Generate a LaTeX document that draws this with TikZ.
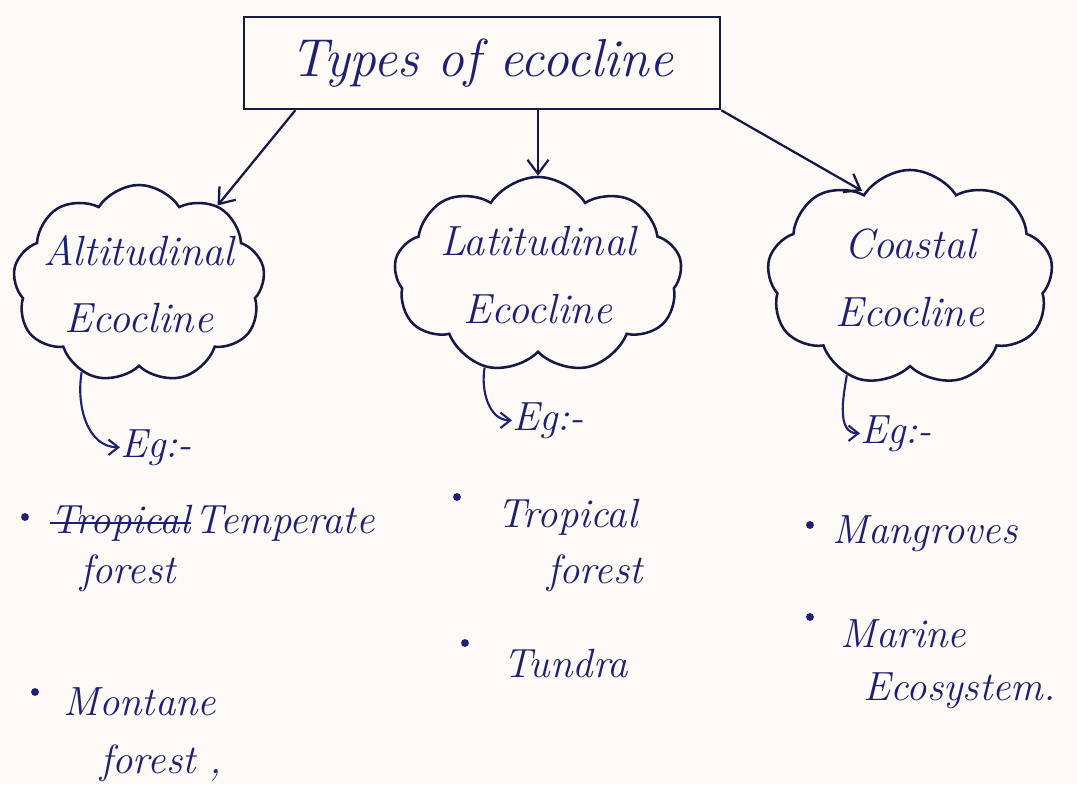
\documentclass[tikz,border=0pt]{standalone}
\usepackage{fontspec}
\usepackage{tikz}
\usetikzlibrary{shapes, positioning, arrows.meta, calc}
\definecolor{ink}{RGB}{30,32,115}
\definecolor{pen}{RGB}{22,24,70}
\definecolor{paper}{RGB}{253,250,247}
\tikzstyle{titleBox}=[draw=pen, line width=1.8pt, minimum width=11.9cm,
  minimum height=2.3cm, font=\fontsize{38}{44}\selectfont\itshape, text=ink]
\tikzstyle{ecoCloud}=[cloud, draw=pen, line width=1.8pt, cloud puffs=9,
  cloud puff arc=115, cloud ignores aspect, inner sep=0pt]
\tikzstyle{cloudText}=[font=\fontsize{30}{48}\selectfont\itshape, text=ink,
  align=center]
\tikzstyle{arrow}=[-{Straight Barb[length=10pt, width=15pt]}, line width=1.6pt,
  draw=pen]
\tikzstyle{hookArrow}=[-{Straight Barb[length=7pt, width=11pt]}, line width=1.5pt,
  draw=ink]
\tikzstyle{hand}=[font=\fontsize{29}{36}\selectfont\itshape, text=ink,
  inner sep=0pt, anchor=base west]
\newcommand{\egDot}[1]{\fill[ink] #1 circle (2.8pt);}

\begin{document}
\begin{tikzpicture}[x=0.025cm, y=-0.025cm]
      \fill[paper] (0,0) rectangle (1077,784);
      \useasboundingbox (0,0) rectangle (1077,784);

      \node[titleBox] (title) at (482,63) {Types of ecocline};

      \node[ecoCloud, minimum width=6.3cm, minimum height=4.95cm,
        label={[cloudText]center:{Altitudinal\\Ecocline}}] (alt) at (139,284) {};
      \node[ecoCloud, minimum width=7.2cm, minimum height=4.9cm,
        label={[cloudText]center:{Latitudinal\\Ecocline}}] (lat) at (538,275) {};
      \node[ecoCloud, minimum width=7.15cm, minimum height=5.4cm,
        label={[cloudText]center:{Coastal\\Ecocline}}] (coast) at (910,278) {};

      \draw[arrow] ($(title.south west)!0.11!(title.south east)$) -- (alt.45);
      \draw[arrow] (lat.north |- title.south) -- (lat.north);
      \draw[arrow, shorten >=2pt] (title.south east) -- (coast.118);

      % examples
      \node[hand] (egA) at (120,457) {Eg:-};
      \node[hand] (egB) at (512,430) {Eg:-};
      \node[hand] (egC) at (860,443) {Eg:-};
      \draw[hookArrow] (alt.237) to[out=-100, in=180] (egA.west);
      \draw[hookArrow] (lat.240) to[out=-100, in=180] (egB.west);
      \draw[hookArrow] (coast.237) to[out=-100, in=180] (egC.west);

      \egDot{(25,517)}
      \egDot{(35,692)}
      \egDot{(457,497)}
      \egDot{(465,643)}
      \egDot{(810,525)}
      \egDot{(810,617)}

      \node[hand] (tropA) at (50,533) {Tropical};
      \node[hand, base right=0.25em of tropA] (tempA) {Temperate};
      \draw[ink, line width=1.4pt] ([yshift=7pt]tropA.base west) -- ([yshift=7pt]tropA.base east);
      \node[hand] (forestA) at (80,583) {forest};
      \node[hand] (montA) at (63,715) {Montane};
      \node[hand] (forestM) at (100,773) {forest ,};
      \node[hand] (tropB) at (497,527) {Tropical};
      \node[hand] (forestB) at (547,583) {forest};
      \node[hand] (tundB) at (503,677) {Tundra};
      \node[hand] (mangC) at (832,543) {Mangroves};
      \node[hand] (marC) at (840,647) {Marine};
      \node[hand] (ecoC) at (863,700) {Ecosystem.};
    \end{tikzpicture}
\end{document}
